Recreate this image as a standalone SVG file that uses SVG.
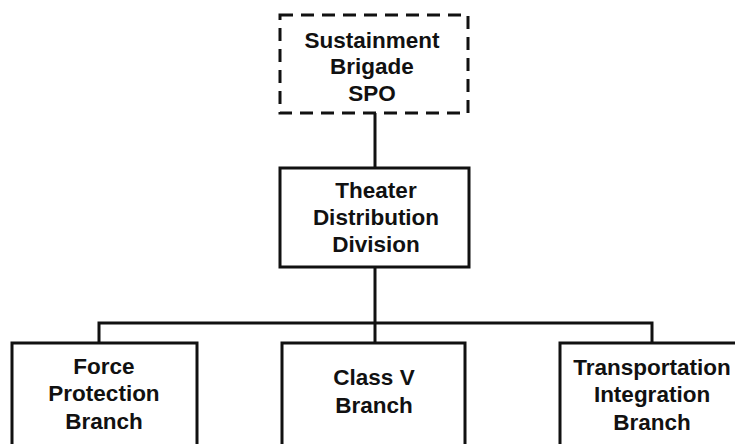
<svg xmlns="http://www.w3.org/2000/svg" width="735" height="444" viewBox="0 0 735 444">
<style>
.box{fill:#fff;stroke:#111;stroke-width:3}
.dash{fill:#fff;stroke:#111;stroke-width:3;stroke-dasharray:13 8}
.ln{fill:none;stroke:#111;stroke-width:3}
text{font-family:"Liberation Sans",Arial,sans-serif;font-weight:bold;font-size:22.5px;fill:#111;text-anchor:middle}
</style>
<rect width="735" height="444" fill="#fff"/>
<g id="connectors">
<path class="ln" d="M375 113V168"/>
<path class="ln" d="M375 267V323"/>
<path class="ln" d="M99 343V323H652V343"/>
<path class="ln" d="M375 323V343"/>
</g>
<g id="sustainment">
<rect class="dash" x="280" y="15" width="188" height="98"/>
<text x="372" y="48">Sustainment</text>
<text x="372" y="74">Brigade</text>
<text x="372" y="101">SPO</text>
</g>
<g id="theater">
<rect class="box" x="280" y="168" width="189" height="99"/>
<text x="376" y="198">Theater</text>
<text x="376" y="225">Distribution</text>
<text x="376" y="252">Division</text>
</g>
<g id="force">
<rect class="box" x="12" y="343" width="185" height="120"/>
<text x="104" y="374">Force</text>
<text x="104" y="401">Protection</text>
<text x="104" y="429">Branch</text>
</g>
<g id="classv">
<rect class="box" x="282" y="343" width="183" height="120"/>
<text x="374" y="385">Class V</text>
<text x="374" y="413">Branch</text>
</g>
<g id="transport">
<rect class="box" x="560" y="343" width="190" height="120"/>
<text x="652" y="375">Transportation</text>
<text x="652" y="402">Integration</text>
<text x="652" y="430">Branch</text>
</g>
</svg>
